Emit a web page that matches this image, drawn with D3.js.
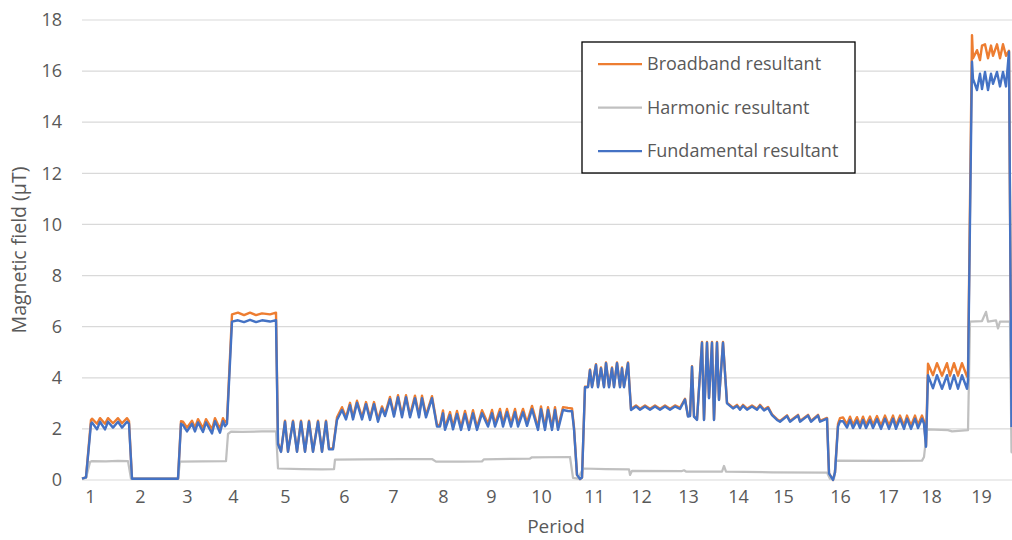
<!DOCTYPE html>
<html>
<head>
<meta charset="utf-8">
<script src="https://cdn.jsdelivr.net/npm/d3@7/dist/d3.min.js"></script>
<style>
  html, body { margin: 0; padding: 0; background: #fff; }
  svg { display: block; font-family: "Open Sans", "Noto Sans", sans-serif; }
</style>
</head>
<body>
<svg id="chart" width="1012" height="540"></svg>
<script>
// ---- data (sample index along the recording) ----
const sampleIdx = [0,2,4.5,5,7.5,9,11.5,13,15.5,18,20,22.5,23.5,25,48,49.5,50.5,52.5,55,56.5,58,60.5,62,65,66.5,69,70.5,71.5,72.5,75,78,81,84,87,90,94,97,98,99.5,101.5,103,105.5,107.5,109.5,111.5,113.5,115.5,118,120,122,123.5,125.5,127.5,130,132,134,135.5,137.5,140,142,144,146,148,150,151.5,154,156,158,160,162,164,166.5,168.5,170,172,175,177.5,179,180.5,181.5,184,185.5,187.5,189.5,191.5,193.5,195.5,197.5,200,203,205,206.5,209,210.5,212.5,214.5,216.5,218,220.5,222.5,225,228,229.5,231.5,233,235,236.5,238,240.5,243,245,246,247.5,249,250,251.5,253,254,255,257,258,259.5,261,262,263.5,265,266,267.5,269,270,271,273,274.5,277,279,281.5,284,286.5,289,291.5,294,296.5,299,301.5,303,304,305,306,307.5,310,311,312.5,313.5,315,316,317.5,318.5,320.5,322.5,324,325.5,327.5,329,330.5,332.5,335,337.5,339,341,343,345,347.5,349,352.5,354,358,359,363,364.5,368,369,372.5,373.5,375.5,376.5,378,379,380.5,382.5,384,385.5,387.5,389,390.5,392,394,395.5,397.5,399.5,401.5,403.5,405.5,407,409,411,412.5,414.5,416.5,418,420,421,422,423,425.5,427.5,430,432.5,434,436,438,440,442.5,443,445,445.5,447.5,449,450,451.5,453,454.5,455.5,457.5,459,460.5,462,463.5,464.75];

const fundamental = [0.05,0.1,2.2,2.25,1.98,2.28,1.98,2.28,2.05,2.28,2.05,2.28,2.2,0.05,0.05,2.2,2.15,1.9,2.2,1.9,2.25,1.88,2.25,1.82,2.3,1.85,2.3,2.1,2.2,6.2,6.25,6.18,6.27,6.18,6.25,6.2,6.25,1.4,1.1,2.28,1.1,2.28,1.1,2.28,1.1,2.28,1.1,2.28,1.1,2.28,1.2,1.2,2.35,2.74,2.37,2.93,2.37,3.02,2.37,2.97,2.35,2.97,2.28,2.8,2.5,3.16,2.48,3.24,2.45,3.24,2.45,3.2,2.45,3.2,2.45,3.2,2.09,2.09,2.61,1.96,2.54,1.98,2.58,1.96,2.58,1.96,2.61,1.96,2.61,2.09,2.61,2.09,2.65,2.09,2.65,2.09,2.65,2.09,2.65,2.12,2.77,1.96,2.77,1.96,2.74,1.96,2.74,1.96,2.74,2.7,2.69,2.0,0.2,0.04,0.1,3.63,3.63,4.3,3.63,4.5,3.63,4.37,3.63,4.57,3.63,4.37,3.63,4.57,3.63,4.37,3.63,4.57,2.74,2.88,2.75,2.88,2.75,2.88,2.75,2.88,2.75,2.88,2.78,3.15,2.48,2.5,4.43,2.48,2.35,5.37,2.35,5.37,3.2,5.37,2.35,5.37,3.13,5.37,3.0,2.9,2.8,2.9,2.75,2.9,2.75,2.88,2.75,2.9,2.72,2.82,2.54,2.35,2.28,2.5,2.28,2.52,2.28,2.52,2.28,2.52,2.28,2.4,0.26,0.0,0.3,2.09,2.3,2.3,2.05,2.35,2.03,2.33,2.03,2.35,2.03,2.35,2.03,2.38,2.0,2.4,2.0,2.4,2.0,2.4,2.0,2.4,2.0,2.4,2.03,2.4,2.2,1.3,4.1,3.59,4.1,3.57,4.1,3.57,4.1,3.57,4.1,3.57,3.9,16.37,15.7,15.26,15.9,15.3,15.97,15.26,15.9,15.5,15.97,15.4,15.97,15.4,16.76,2.07];

const broadband = [0.05,0.1,2.35,2.4,2.2,2.42,2.2,2.42,2.22,2.42,2.22,2.42,2.3,0.05,0.05,2.3,2.28,2.05,2.32,2.05,2.38,2.02,2.38,1.98,2.42,2.0,2.42,2.25,2.35,6.48,6.55,6.45,6.55,6.45,6.52,6.48,6.55,1.45,1.12,2.32,1.12,2.32,1.12,2.32,1.12,2.32,1.12,2.32,1.12,2.32,1.22,1.25,2.45,2.85,2.45,3.02,2.45,3.1,2.45,3.05,2.43,3.05,2.36,2.88,2.58,3.25,2.56,3.32,2.53,3.32,2.53,3.3,2.53,3.3,2.53,3.28,2.15,2.15,2.72,2.05,2.66,2.08,2.7,2.06,2.7,2.06,2.73,2.06,2.73,2.2,2.74,2.2,2.78,2.2,2.78,2.2,2.78,2.2,2.78,2.24,2.9,2.05,2.88,2.05,2.85,2.05,2.85,2.05,2.85,2.82,2.8,2.05,0.2,0.04,0.1,3.65,3.66,4.33,3.66,4.53,3.66,4.4,3.66,4.6,3.66,4.4,3.66,4.6,3.66,4.4,3.66,4.6,2.78,2.92,2.79,2.92,2.79,2.92,2.79,2.92,2.79,2.92,2.82,3.18,2.5,2.52,4.45,2.5,2.37,5.4,2.37,5.4,3.22,5.4,2.37,5.4,3.15,5.4,3.03,2.93,2.83,2.94,2.79,2.94,2.79,2.92,2.79,2.94,2.76,2.86,2.57,2.38,2.31,2.53,2.31,2.55,2.31,2.55,2.31,2.55,2.31,2.43,0.26,0.0,0.3,2.2,2.42,2.45,2.18,2.48,2.16,2.46,2.16,2.48,2.16,2.48,2.16,2.5,2.13,2.52,2.13,2.52,2.13,2.52,2.13,2.52,2.13,2.52,2.16,2.52,2.3,1.35,4.55,4.1,4.57,4.08,4.57,4.08,4.57,4.08,4.57,4.05,4.2,17.41,16.5,16.82,16.43,17.0,17.05,16.5,17.0,16.6,17.05,16.5,17.05,16.6,16.8,2.07];

const harmonicIdx = [0,2,4,5,12,18,23,24.5,48,49,60,72,73,74.5,80,90,97,98,110,120,126,126.5,140,160,175,177,190,200,201,215,224,225,244,245.5,248,250.5,262,273.5,274,275,300,301,302,320,321,322,345,372.5,374,376,377,400,420,421,422.5,433,435,443,444,450,452,453,457,458,459,464,464.75,465];
const harmonic = [0.05,0.08,0.7,0.74,0.73,0.75,0.74,0.05,0.05,0.72,0.73,0.74,1.8,1.89,1.88,1.9,1.9,0.45,0.43,0.42,0.43,0.8,0.81,0.82,0.82,0.72,0.72,0.73,0.81,0.83,0.84,0.89,0.9,0.08,0.05,0.45,0.43,0.42,0.2,0.36,0.35,0.38,0.33,0.33,0.55,0.33,0.3,0.29,0.05,0.05,0.76,0.75,0.76,0.9,1.98,1.95,1.9,1.95,6.2,6.22,6.58,6.2,6.25,5.93,6.2,6.2,1.1,1.05];

const yTicks = [0,2,4,6,8,10,12,14,16,18];
const periodLabels = ["1","2","3","4","5","6","7","8","9","10","11","12","13","14","15","16","17","18","19"];
const periodIdx = [4,29,52.5,75.5,101.5,131,155.5,180.5,204.5,229.5,256,279.5,303,328,350.5,379,403,424.5,449.5];

const seriesNames = ["Broadband resultant","Harmonic resultant","Fundamental resultant"];
const seriesColors = ["#ED7D31","#C0C0C0","#4472C4"];

// ---- chart ----
const W = 1012, H = 540;
const m = {left: 82, right: 0, top: 20, bottom: 60};
const svg = d3.select("#chart");
const x = d3.scaleLinear().domain([0, 465]).range([m.left, W - m.right]);
const y = d3.scaleLinear().domain([0, 18]).range([H - m.bottom, m.top]);

// gridlines
svg.append("g")
  .selectAll("line").data(yTicks).join("line")
  .attr("x1", x(0)).attr("x2", x(465))
  .attr("y1", d => y(d)).attr("y2", d => y(d))
  .attr("stroke", "#D9D9D9").attr("stroke-width", 1.2);

// y axis labels
const yAxis = d3.axisLeft(y).tickValues(yTicks).tickSize(0).tickPadding(20);
const gy = svg.append("g").attr("transform", `translate(${m.left},0)`).call(yAxis);
gy.select(".domain").remove();
gy.selectAll("text").attr("fill", "#595959").style("font-size", "18px")
  .style("font-family", '"Open Sans", sans-serif');

// x axis labels
const xAxis = d3.axisBottom(x).tickValues(periodIdx)
  .tickFormat((d, i) => periodLabels[i]).tickSize(0).tickPadding(10);
const gx = svg.append("g").attr("transform", `translate(0,${y(0)})`).call(xAxis);
gx.select(".domain").remove();
gx.selectAll("text").attr("fill", "#595959").style("font-size", "18px")
  .style("font-family", '"Open Sans", sans-serif');

// titles
svg.append("text").attr("x", 556).attr("y", 533).attr("text-anchor", "middle")
  .attr("fill", "#595959").style("font-size", "19px").text("Period");
svg.append("text").attr("transform", "translate(26,250) rotate(-90)")
  .attr("text-anchor", "middle").attr("fill", "#595959").style("font-size", "19.5px")
  .text("Magnetic field (μT)");

// lines
const line = d3.line().x(d => x(d[0])).y(d => y(d[1]));
const bbData = sampleIdx.map((s, i) => [s, broadband[i]]);
const fData = sampleIdx.map((s, i) => [s, fundamental[i]]);
const hData = harmonicIdx.map((s, i) => [s, harmonic[i]]);
const plot = svg.append("g");
plot.append("path").datum(bbData).attr("d", line).attr("fill", "none")
  .attr("stroke", seriesColors[0]).attr("stroke-width", 2.4).attr("stroke-linejoin", "round");
plot.append("path").datum(hData).attr("d", line).attr("fill", "none")
  .attr("stroke", seriesColors[1]).attr("stroke-width", 2.25).attr("stroke-linejoin", "round");
plot.append("path").datum(fData).attr("d", line).attr("fill", "none")
  .attr("stroke", seriesColors[2]).attr("stroke-width", 2.4).attr("stroke-linejoin", "round");

// legend
const lg = svg.append("g").attr("transform", "translate(582,42)");
lg.append("rect").attr("x", 0).attr("y", 0).attr("width", 273).attr("height", 131)
  .attr("fill", "#fff").attr("stroke", "#000").attr("stroke-width", 1.3);
seriesNames.forEach((n, i) => {
  const yy = 22 + i * 43.5;
  lg.append("line").attr("x1", 16).attr("x2", 60).attr("y1", yy).attr("y2", yy)
    .attr("stroke", seriesColors[i]).attr("stroke-width", 2.25);
  lg.append("text").attr("x", 65).attr("y", yy).attr("dy", "0.35em")
    .attr("fill", "#595959").style("font-size", "18px").text(n);
});
</script>
</body>
</html>
